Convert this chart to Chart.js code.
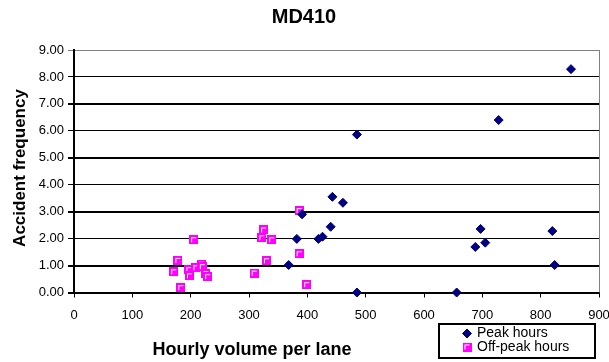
<!DOCTYPE html>
<html>
<head>
<meta charset="utf-8">
<script src="https://cdn.jsdelivr.net/npm/chart.js@4"></script>
<style>
  body { margin: 0; background: #fff; }
  #wrap { width: 609px; height: 362px; position: relative; }
</style>
</head>
<body>
<div id="wrap"><canvas id="chart"></canvas></div>
<script>
const chartTitle = "MD410";
const xTitle = "Hourly volume per lane";
const yTitle = "Accident frequency";
const seriesNames = ["Peak hours", "Off-peak hours"];

const peakVolume = [368, 382, 391, 419, 426, 440, 443, 461, 485, 485, 656, 688, 697, 705, 728, 820, 824, 852];
const peakFreq = [1.02, 1.99, 2.90, 1.99, 2.07, 2.44, 3.55, 3.33, 5.86, 0, 0, 1.69, 2.36, 1.85, 6.40, 2.28, 1.02, 8.29];

const offVolume = [171, 178, 183, 197, 198, 205, 209, 218, 220, 226, 229, 309, 322, 325, 330, 339, 386, 386, 399];
const offFreq = [0.77, 1.19, 0.18, 0.85, 0.62, 1.96, 0.92, 1.05, 0.96, 0.70, 0.59, 0.72, 2.03, 2.32, 1.18, 1.96, 3.04, 1.44, 0.29];

const xMin = 0, xMax = 900, xStep = 100;
const yMin = 0, yMax = 9, yStep = 1;

const FONT = "'Liberation Sans', Arial, sans-serif";

// excel style "square" marker: magenta with a white corner inside
function makeSquareMarker() {
  const c = document.createElement("canvas");
  c.width = 9;
  c.height = 9;
  const g = c.getContext("2d");
  g.fillStyle = "#ff00ff";
  g.fillRect(0, 0, 9, 9);
  g.fillStyle = "#ffffff";
  g.fillRect(2, 2, 5, 1);
  g.fillRect(2, 2, 1, 5);
  return c;
}
const squareMarker = makeSquareMarker();

function toPoints(xs, ys) {
  return xs.map((x, i) => ({ x: x, y: ys[i] }));
}

const decorPlugin = {
  id: "decor",
  beforeDatasetsDraw(chart) {
    const ctx = chart.ctx;
    const a = chart.chartArea;
    ctx.save();
    ctx.strokeStyle = "#808080";
    ctx.lineWidth = 1;
    ctx.beginPath();
    ctx.moveTo(a.right + 0.5, a.top);
    ctx.lineTo(a.right + 0.5, a.bottom);
    ctx.stroke();
    ctx.restore();
  },
  afterDraw(chart) {
    const ctx = chart.ctx;
    ctx.save();
    ctx.fillStyle = "#000";

    ctx.font = "bold 20px " + FONT;
    ctx.textAlign = "center";
    ctx.textBaseline = "alphabetic";
    ctx.fillText(chartTitle, 304, 23);

    ctx.font = "bold 18px " + FONT;
    ctx.fillText(xTitle, 252, 355);

    ctx.save();
    ctx.translate(25, 168);
    ctx.rotate(-Math.PI / 2);
    ctx.font = "bold 17px " + FONT;
    ctx.fillText(yTitle, 0, 0);
    ctx.restore();

    // legend box
    ctx.strokeStyle = "#000";
    ctx.lineWidth = 2;
    ctx.strokeRect(439, 324, 156, 34);
    ctx.font = "14px " + FONT;
    ctx.textAlign = "left";
    ctx.textBaseline = "middle";
    const rows = [333.5, 347];
    chart.data.datasets.forEach((ds, i) => {
      ctx.fillStyle = ds.backgroundColor;
      ctx.strokeStyle = ds.borderColor;
      ctx.lineWidth = ds.borderWidth;
      Chart.helpers.drawPoint(ctx, {
        pointStyle: ds.pointStyle,
        radius: ds.pointRadius,
        borderWidth: ds.borderWidth,
        rotation: 0
      }, 467, rows[i]);
      ctx.fillStyle = "#000";
      ctx.fillText(ds.label, 477, rows[i]);
    });
    ctx.restore();
  }
};

new Chart(document.getElementById("chart"), {
  type: "scatter",
  data: {
    datasets: [
      {
        label: seriesNames[0],
        data: toPoints(peakVolume, peakFreq),
        pointStyle: "rectRot",
        pointRadius: 4.5,
        borderWidth: 1,
        backgroundColor: "#000080",
        borderColor: "#000080",
        clip: false
      },
      {
        label: seriesNames[1],
        data: toPoints(offVolume, offFreq),
        pointStyle: squareMarker,
        pointRadius: 4.5,
        borderWidth: 0,
        backgroundColor: "#ff00ff",
        borderColor: "#ff00ff",
        clip: false
      }
    ]
  },
  options: {
    responsive: true,
    maintainAspectRatio: false,
    animation: false,
    layout: { padding: { top: 50, right: 10, bottom: 0, left: 0 } },
    plugins: {
      legend: { display: false },
      title: { display: false },
      tooltip: { enabled: false }
    },
    scales: {
      x: {
        type: "linear",
        min: xMin,
        max: xMax,
        afterFit(scale) {
          scale.height = 69.5;
          scale.paddingLeft = 0;
          scale.paddingRight = 0;
        },
        ticks: {
          stepSize: xStep,
          maxRotation: 0,
          autoSkip: false,
          padding: 10,
          color: "#000",
          font: { family: FONT, size: 13 }
        },
        grid: {
          drawOnChartArea: false,
          drawTicks: true,
          tickLength: 5,
          color: "#000",
          lineWidth: 1
        },
        border: { color: "#000", width: 2 }
      },
      y: {
        type: "linear",
        min: yMin,
        max: yMax,
        afterFit(scale) {
          scale.width = 74;
          scale.paddingTop = 0;
          scale.paddingBottom = 0;
        },
        ticks: {
          stepSize: yStep,
          padding: 4,
          color: "#000",
          font: { family: FONT, size: 13 },
          callback: (v) => Number(v).toFixed(2)
        },
        grid: {
          tickLength: 6,
          color: (c) => (c.tick && c.tick.value === yMax ? "#808080" : "#000"),
          lineWidth: (c) => {
            if (!c.tick) return 1;
            const v = c.tick.value;
            if (v === yMax) return 1;
            return v % 2 === 1 || v === 0 ? 2 : 1;
          }
        },
        border: { color: "#000", width: 2 }
      }
    }
  },
  plugins: [decorPlugin]
});
</script>
</body>
</html>
